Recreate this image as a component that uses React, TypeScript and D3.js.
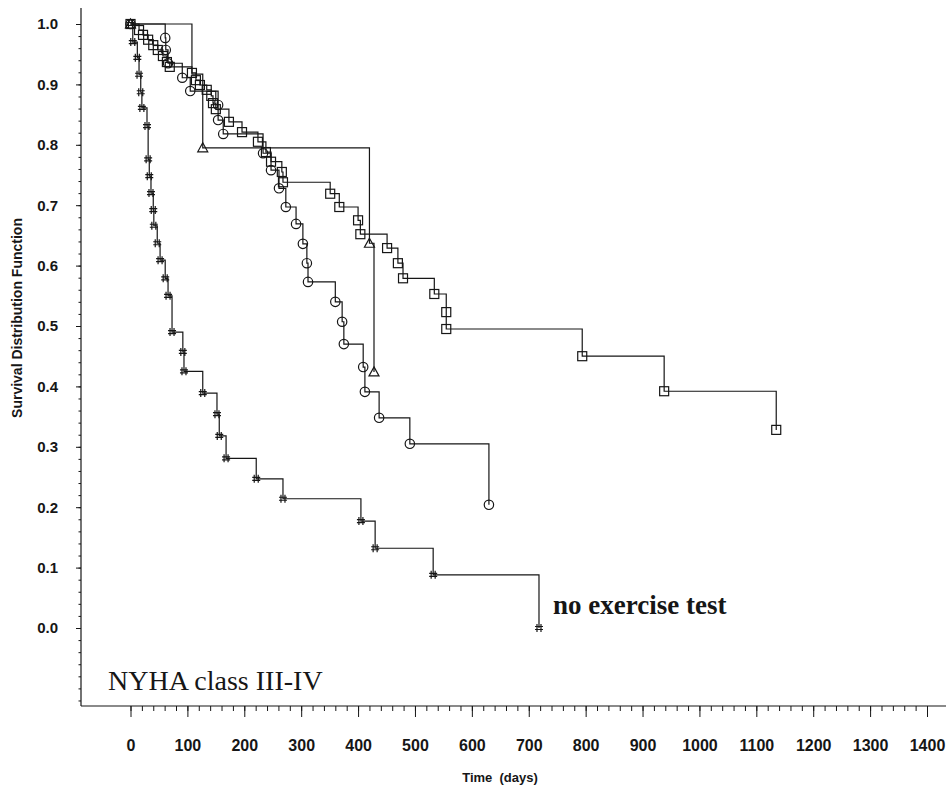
import React, { useRef, useEffect } from 'react';
import * as d3 from 'd3';

const W = 948;
const H = 789;

// "no exercise test" group (# symbols)
const hashDays = [0, 4, 12, 15, 18, 20, 29, 31, 33, 36, 40, 41, 47, 52, 61, 66, 73, 92, 94, 127, 152, 156, 168, 221, 268, 405, 430, 532, 718];
const hashSurv = [1.0, 0.970, 0.944, 0.916, 0.887, 0.861, 0.831, 0.776, 0.748, 0.720, 0.692, 0.666, 0.637, 0.609, 0.579, 0.550, 0.490, 0.457, 0.425, 0.389, 0.354, 0.318, 0.281, 0.247, 0.214, 0.177, 0.132, 0.088, 0.0];

// square group
const squareDays = [0, 15, 22, 31, 40, 48, 57, 64, 69, 108, 115, 122, 134, 142, 145, 150, 173, 196, 224, 238, 247, 266, 268, 351, 367, 400, 404, 451, 470, 479, 534, 555, 555, 794, 938, 1135];
const squareSurv = [1.0, 0.990, 0.982, 0.974, 0.965, 0.957, 0.947, 0.937, 0.929, 0.919, 0.907, 0.899, 0.891, 0.881, 0.869, 0.859, 0.838, 0.821, 0.805, 0.788, 0.772, 0.755, 0.738, 0.719, 0.697, 0.675, 0.652, 0.629, 0.604, 0.579, 0.553, 0.523, 0.495, 0.450, 0.392, 0.328];

// circle group
const circleDays = [0, 61, 62, 66, 91, 105, 154, 154, 163, 233, 247, 261, 273, 291, 303, 310, 312, 360, 372, 375, 409, 412, 437, 491, 630];
const circleSurv = [1.0, 0.977, 0.957, 0.935, 0.911, 0.889, 0.866, 0.841, 0.818, 0.786, 0.758, 0.728, 0.697, 0.669, 0.636, 0.604, 0.573, 0.540, 0.507, 0.470, 0.432, 0.391, 0.348, 0.305, 0.204];

// triangle group (the 108-day step has no visible symbol)
const triangleDays = [0, 108, 127, 420, 428];
const triangleSurv = [1.0, 0.917, 0.795, 0.637, 0.424];
const triangleMarked = [true, false, true, true, true];

const xMajor = d3.range(0, 1401, 100);
const xMinor = d3.range(0, 1401, 20);
const yMajor = d3.range(0, 11).map(i => i / 10);
const yMinor = d3.range(-6, 51).map(i => i / 50);

const App = () => {
  const svgRef = useRef(null);

  useEffect(() => {
    const svg = d3.select(svgRef.current);
    svg.selectAll("*").remove();

    const x = d3.scaleLinear().domain([0, 1400]).range([130.5, 927]);
    const y = d3.scaleLinear().domain([0, 1]).range([628, 24]);
    const axisX = 81;
    const axisY = 706;
    const ink = "#161616";

    // y axis
    svg.append("line")
      .attr("x1", axisX).attr("x2", axisX)
      .attr("y1", 8).attr("y2", axisY)
      .attr("stroke", ink).attr("stroke-width", 1.2);

    svg.append("g")
      .attr("transform", `translate(${axisX},0)`)
      .call(d3.axisLeft(y).tickValues(yMinor).tickSize(2.5).tickFormat(() => ""))
      .call(g => g.select(".domain").remove())
      .selectAll("line").attr("stroke", ink);

    const yAx = svg.append("g")
      .attr("transform", `translate(${axisX},0)`)
      .call(d3.axisLeft(y).tickValues(yMajor).tickSize(5).tickPadding(18).tickFormat(d3.format(".1f")));
    yAx.select(".domain").remove();
    yAx.selectAll("line").attr("stroke", ink);
    yAx.selectAll("text")
      .attr("fill", ink)
      .style("font-family", "'Liberation Sans', Arial, sans-serif")
      .style("font-weight", "bold")
      .style("font-size", "15px");

    // x axis
    svg.append("line")
      .attr("x1", axisX).attr("x2", 946)
      .attr("y1", axisY).attr("y2", axisY)
      .attr("stroke", ink).attr("stroke-width", 1.2);

    svg.append("g")
      .attr("transform", `translate(0,${axisY})`)
      .call(d3.axisBottom(x).tickValues(xMinor).tickSize(5).tickFormat(() => ""))
      .call(g => g.select(".domain").remove())
      .selectAll("line").attr("stroke", ink);

    const xAx = svg.append("g")
      .attr("transform", `translate(0,${axisY})`)
      .call(d3.axisBottom(x).tickValues(xMajor).tickSize(11).tickPadding(23).tickFormat(d3.format("d")));
    xAx.select(".domain").remove();
    xAx.selectAll("line").attr("stroke", ink);
    xAx.selectAll("text")
      .attr("fill", ink)
      .style("font-family", "'Liberation Sans', Arial, sans-serif")
      .style("font-weight", "bold")
      .style("font-size", "16px");

    // axis titles
    svg.append("text")
      .attr("transform", "translate(22,318) rotate(-90)")
      .attr("text-anchor", "middle")
      .attr("fill", ink)
      .style("font-family", "'Liberation Sans', Arial, sans-serif")
      .style("font-weight", "bold")
      .style("font-size", "14px")
      .text("Survival Distribution Function");

    svg.append("text")
      .attr("x", 500).attr("y", 782)
      .attr("text-anchor", "middle")
      .attr("fill", ink)
      .style("font-family", "'Liberation Sans', Arial, sans-serif")
      .style("font-weight", "bold")
      .style("font-size", "13px")
      .style("white-space", "pre")
      .text("Time  (days)");

    // step curves
    const line = d3.line().curve(d3.curveStepAfter).x(d => x(d[0])).y(d => y(d[1]));
    const series = [
      { days: triangleDays, surv: triangleSurv, shape: "triangle", marked: triangleMarked },
      { days: circleDays, surv: circleSurv, shape: "circle" },
      { days: squareDays, surv: squareSurv, shape: "square" },
      { days: hashDays, surv: hashSurv, shape: "hash" },
    ];

    series.forEach(s => {
      const pts = s.days.map((d, i) => [d, s.surv[i]]);
      svg.append("path")
        .attr("d", line(pts))
        .attr("fill", "none")
        .attr("stroke", ink)
        .attr("stroke-width", 1.2);

      const marks = svg.append("g")
        .attr("fill", "none")
        .attr("stroke", ink)
        .attr("stroke-width", 1.2);

      pts.forEach((p, i) => {
        if (s.marked && !s.marked[i]) return;
        const cx = x(p[0]);
        const cy = y(p[1]);
        if (s.shape === "square") {
          marks.append("rect").attr("x", cx - 4.5).attr("y", cy - 4.5).attr("width", 9).attr("height", 9);
        } else if (s.shape === "circle") {
          marks.append("circle").attr("cx", cx).attr("cy", cy).attr("r", 4.7);
        } else if (s.shape === "triangle") {
          marks.append("path").attr("d", `M${cx},${cy - 5}L${cx + 5},${cy + 4}L${cx - 5},${cy + 4}Z`);
        } else {
          marks.append("path")
            .attr("d", `M${cx - 2},${cy - 4}V${cy + 4}M${cx + 2},${cy - 4}V${cy + 4}M${cx - 4},${cy - 1.5}H${cx + 4}M${cx - 4},${cy + 1.5}H${cx + 4}`);
        }
      });
    });

    // annotations
    svg.append("text")
      .attr("x", 553).attr("y", 614)
      .attr("fill", ink)
      .style("font-family", "'Liberation Serif', 'Times New Roman', serif")
      .style("font-weight", "bold")
      .style("font-size", "27px")
      .text("no exercise test");

    svg.append("text")
      .attr("x", 108).attr("y", 690)
      .attr("fill", ink)
      .style("font-family", "'Liberation Serif', 'Times New Roman', serif")
      .style("font-size", "28px")
      .text("NYHA class III-IV");
  }, []);

  return (
    <svg ref={svgRef} width={W} height={H}
      style={{ position: "absolute", left: 0, top: 0, background: "#fff" }} />
  );
};

export default App;
